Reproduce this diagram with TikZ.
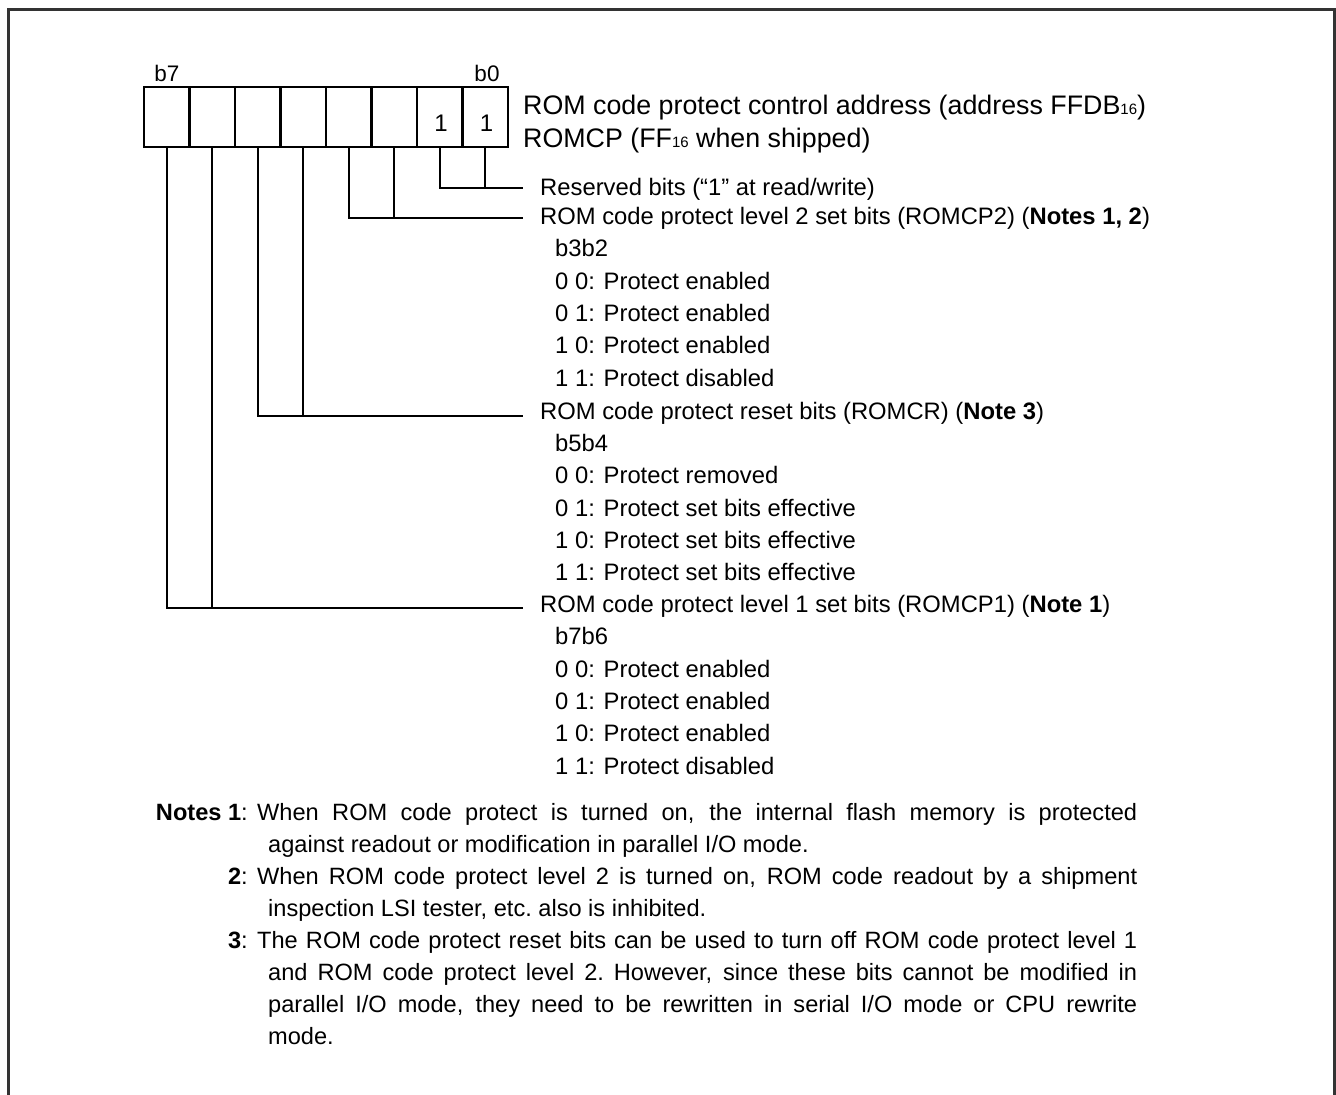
\documentclass[tikz,border=0pt]{standalone}
\usepackage{fontspec}
\setmainfont{Liberation Sans}
\definecolor{framecol}{gray}{0.2}
\begin{document}
\begin{tikzpicture}[x=1pt,y=-1pt,
  txt/.style={inner sep=0pt, font=\fontsize{23.8}{28}\selectfont, text height=17pt, text depth=0pt},
  ttl/.style={inner sep=0pt, anchor=west, font=\fontsize{26.8}{30}\selectfont, text height=19.2pt, text depth=0pt},
  bitno/.style={inner sep=0pt, font=\fontsize{22.5}{26}\selectfont, text height=16pt, text depth=0pt},
  digit/.style={inner sep=0pt, font=\fontsize{24}{28}\selectfont, text height=17.2pt, text depth=0pt},
  lbl/.style={txt, anchor=west},
  cell/.style={draw, line width=2.6pt, minimum width=45.5pt, minimum height=60pt, inner sep=0pt},
  wire/.style={line width=2.3pt},
  notel/.style={inner sep=0pt, anchor=base west, font=\fontsize{23.6}{28}\selectfont},
  noteh/.style={inner sep=0pt, anchor=base east, font=\fontsize{23.6}{28}\selectfont}]
\useasboundingbox (0,0) rectangle (1336,1095);
\newcommand{\sixteen}{{\fontsize{15}{16}\selectfont 16}}
% frame
\draw[framecol, line width=3pt] (8,1095) -- (8,9) -- (1334,9) -- (1334,1095);
% cells
\node[cell] (c7) at (166.75,117) {};
\node[cell] (c6) at (212.25,117) {};
\node[cell] (c5) at (257.75,117) {};
\node[cell] (c4) at (303.25,117) {};
\node[cell] (c3) at (348.75,117) {};
\node[cell] (c2) at (394.25,117) {};
\node[cell] (c1) at (439.75,117) {};
\node[cell] (c0) at (485.25,117) {};
\node[digit] (one1) at (441,123) {1};
\node[digit] (one0) at (486.5,123) {1};
\node[bitno] (b7) at (167,73) {b7};
\node[bitno] (b0) at (487,73) {b0};
% title
\node[ttl] (t1) at (523,105) {ROM code protect control address (address FFDB\sixteen)};
\node[ttl] (t2) at (523,138) {ROMCP (FF\sixteen{} when shipped)};
% field labels
\node[lbl] (rsv) at (540,187) {Reserved bits (“1” at read/write)};
\node[lbl] (lv2) at (540,216) {ROM code protect level 2 set bits (ROMCP2) (\textbf{Notes 1, 2})};
\node[lbl] (lv2a) at (555,248.3) {b3b2};
\node[lbl] (lv2b) at (555,280.6) {0 0: Protect enabled};
\node[lbl] (lv2c) at (555,312.9) {0 1: Protect enabled};
\node[lbl] (lv2d) at (555,345.2) {1 0: Protect enabled};
\node[lbl] (lv2e) at (555,377.5) {1 1: Protect disabled};
\node[lbl] (rst) at (540,411) {ROM code protect reset bits (ROMCR) (\textbf{Note 3})};
\node[lbl] (rsta) at (555,443) {b5b4};
\node[lbl] (rstb) at (555,475.3) {0 0: Protect removed};
\node[lbl] (rstc) at (555,507.6) {0 1: Protect set bits effective};
\node[lbl] (rstd) at (555,539.9) {1 0: Protect set bits effective};
\node[lbl] (rste) at (555,572.2) {1 1: Protect set bits effective};
\node[lbl] (lv1) at (540,604) {ROM code protect level 1 set bits (ROMCP1) (\textbf{Note 1})};
\node[lbl] (lv1a) at (555,636.3) {b7b6};
\node[lbl] (lv1b) at (555,668.6) {0 0: Protect enabled};
\node[lbl] (lv1c) at (555,700.9) {0 1: Protect enabled};
\node[lbl] (lv1d) at (555,733.2) {1 0: Protect enabled};
\node[lbl] (lv1e) at (555,765.5) {1 1: Protect disabled};
% wire ends
\coordinate (e0) at (523,188);
\coordinate (e2) at (523,218);
\coordinate (e4) at (523,416);
\coordinate (e6) at (523,608);
\draw[wire] (c1.south) |- (e0);
\draw[wire] (c0.south) -- (c0.south |- e0);
\draw[wire] (c3.south) |- (e2);
\draw[wire] (c2.south) -- (c2.south |- e2);
\draw[wire] (c5.south) |- (e4);
\draw[wire] (c4.south) -- (c4.south |- e4);
\draw[wire] (c7.south) |- (e6);
\draw[wire] (c6.south) -- (c6.south |- e6);
% notes
\node[noteh] (n1h) at (248,820) {\textbf{Notes 1}:};
\node[notel] (n1a) at (257,820) {\makebox[880pt][s]{When ROM code protect is turned on, the internal flash memory is protected}};
\node[notel] (n1b) at (268,852) {against readout or modification in parallel I/O mode.};
\node[noteh] (n2h) at (248,884) {\textbf{2}:};
\node[notel] (n2a) at (257,884) {\makebox[880pt][s]{When ROM code protect level 2 is turned on, ROM code readout by a shipment}};
\node[notel] (n2b) at (268,916) {inspection LSI tester, etc.\ also is inhibited.};
\node[noteh] (n3h) at (248,948) {\textbf{3}:};
\node[notel] (n3a) at (257,948) {\makebox[880pt][s]{The ROM code protect reset bits can be used to turn off ROM code protect level 1}};
\node[notel] (n3b) at (268,980) {\makebox[869pt][s]{and ROM code protect level 2.\ However, since these bits cannot be modified in}};
\node[notel] (n3c) at (268,1012) {\makebox[869pt][s]{parallel I/O mode, they need to be rewritten in serial I/O mode or CPU rewrite}};
\node[notel] (n3d) at (268,1044) {mode.};
\end{tikzpicture}
\end{document}
